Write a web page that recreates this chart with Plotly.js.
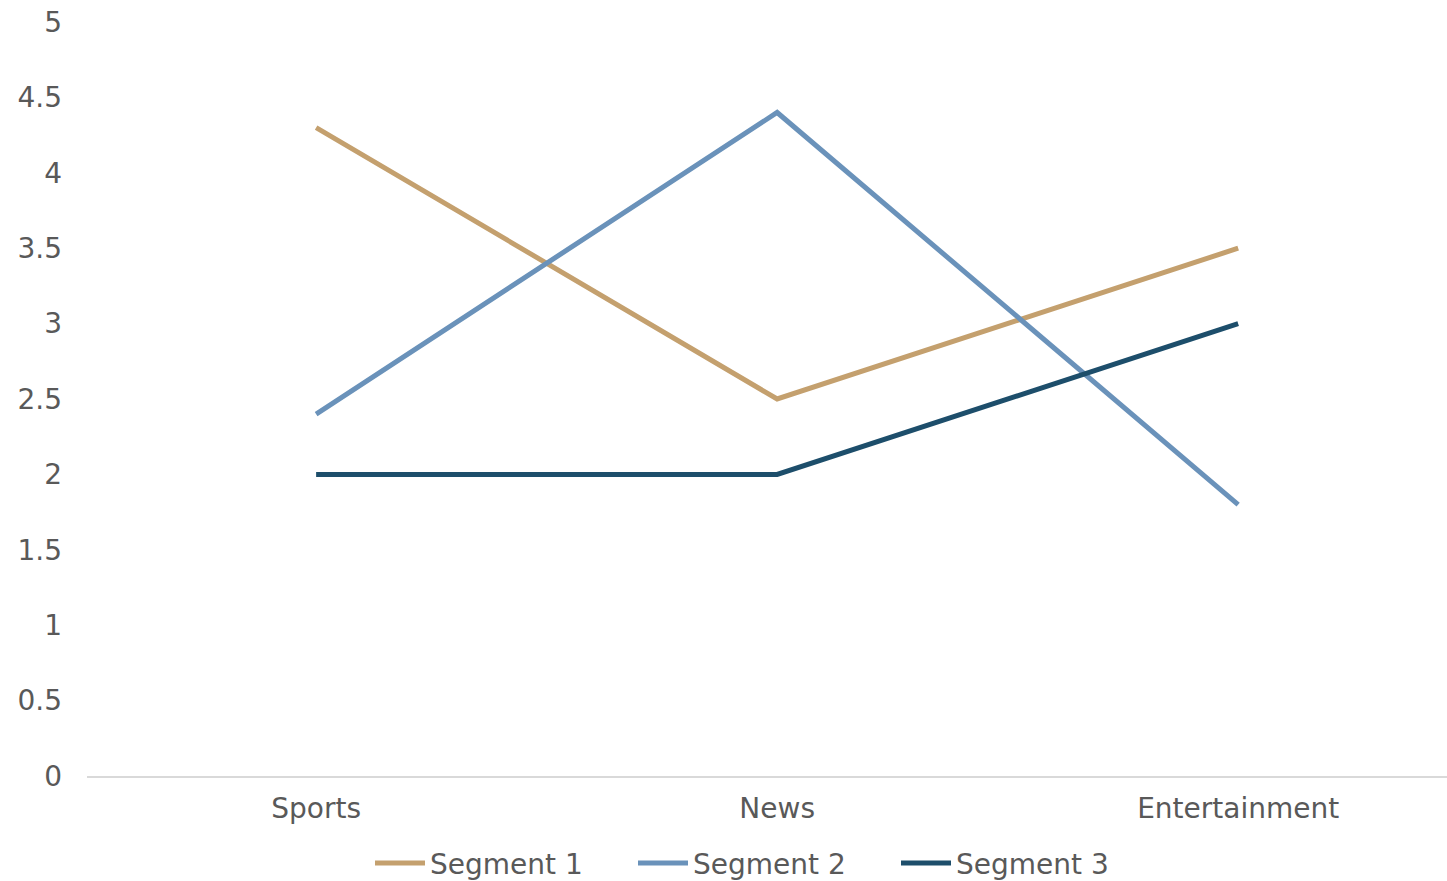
<!DOCTYPE html>
<html>
<head>
<meta charset="utf-8">
<script src="https://cdn.plot.ly/plotly-3.0.1.min.js"></script>
<style>html,body{margin:0;padding:0;background:#fff;}#chart{width:1447px;height:881px;}</style>
</head>
<body>
<div id="chart"></div>
<script>
const categories = ["Sports", "News", "Entertainment"];
const seriesNames = ["Segment 1", "Segment 2", "Segment 3"];
const segment1 = [4.3, 2.5, 3.5];
const segment2 = [2.4, 4.4, 1.8];
const segment3 = [2, 2, 3];
const yTicks = [0, 0.5, 1, 1.5, 2, 2.5, 3, 3.5, 4, 4.5, 5];
const colors = ["#C4A06E", "#6A92BA", "#1D4E6B"];

const values = [segment1, segment2, segment3];
const traces = values.map((v, i) => ({
  type: "scatter",
  mode: "lines",
  x: categories,
  y: v,
  name: seriesNames[i],
  line: {color: colors[i], width: 5}
}));

const font = {family: "'DejaVu Sans', sans-serif", size: 28, color: "#595959"};
const layout = {
  width: 1447,
  height: 881,
  margin: {l: 87, r: 0, t: 22, b: 105},
  paper_bgcolor: "#fff",
  plot_bgcolor: "#fff",
  font: font,
  showlegend: true,
  legend: {
    orientation: "h",
    xref: "container",
    yref: "container",
    x: 0.2557, xanchor: "left",
    y: 0.02, yanchor: "middle",
    bgcolor: "rgba(0,0,0,0)",
    font: font,
    itemwidth: 50,
    entrywidth: 198,
    entrywidthmode: "pixels",
    tracegroupgap: 0
  },
  xaxis: {
    type: "category",
    range: [-0.497, 2.453],
    showgrid: false,
    zeroline: false,
    showline: true,
    linecolor: "#D9D9D9",
    linewidth: 2,
    ticks: "",
    ticklabelstandoff: 6,
    tickfont: font,
    fixedrange: true
  },
  yaxis: {
    range: [0, 5],
    tickvals: yTicks,
    ticktext: yTicks.map(String),
    showgrid: false,
    zeroline: false,
    showline: false,
    ticks: "",
    ticklabelstandoff: 24,
    tickfont: font,
    fixedrange: true
  }
};
Plotly.newPlot("chart", traces, layout, {displayModeBar: false, staticPlot: true});
</script>
</body>
</html>
